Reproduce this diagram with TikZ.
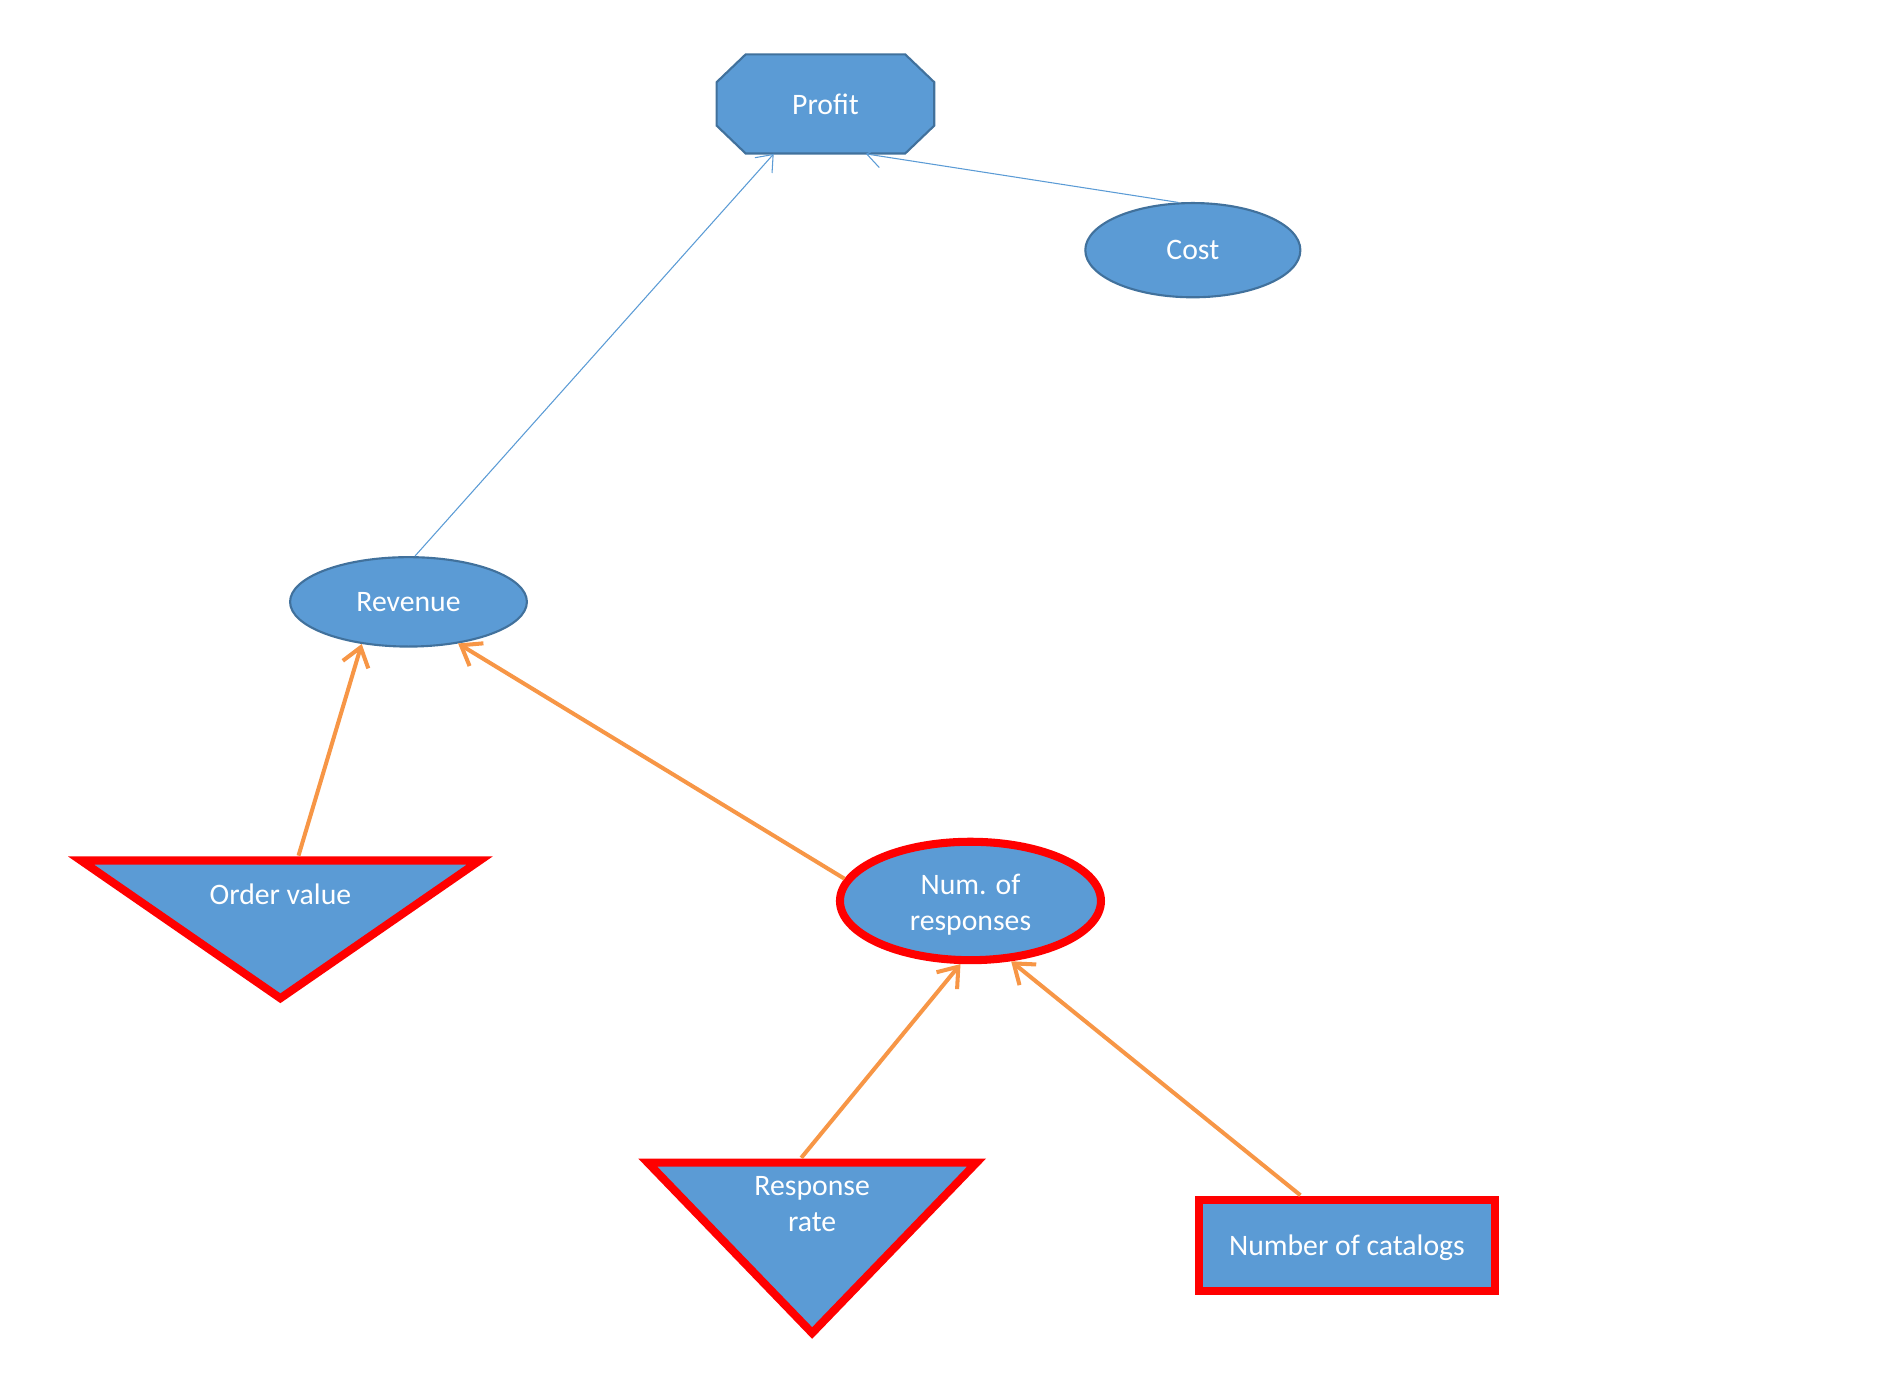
\documentclass[tikz,border=0pt]{standalone}
\usepackage{fontspec}
\setmainfont{Carlito}
\usepackage{tikz}
\usetikzlibrary{positioning, arrows.meta, shapes.geometric}
\definecolor{fillblue}{HTML}{5B9BD5}
\definecolor{edgeblue}{HTML}{41719C}
\definecolor{arrorange}{HTML}{F79646}

\begin{document}
\begin{tikzpicture}[x=0.02cm, y=-0.02cm,
        txt/.style={text=white, font=\fontsize{14}{17}\selectfont, align=center, inner sep=0pt},
        blueline/.style={draw=edgeblue, line width=1pt, fill=fillblue},
        redline/.style={draw=red, line width=3.8pt, fill=fillblue},
        thinarrow/.style={draw=fillblue, line width=0.5pt, -{Straight Barb[length=2.4mm, width=3.8mm]}},
        thickarrow/.style={draw=arrorange, line width=1.9pt, -{Straight Barb[length=3mm, width=4.4mm]}}]
            \useasboundingbox (0, 0) rectangle (1568, 1148);
            \draw[blueline] (593, 68) -- (617, 45) -- (749, 45) -- (773, 68) -- (773, 104) -- (749, 127) -- (617, 127) -- (593, 104) -- cycle;
            \node [txt, minimum width=3.6cm, minimum height=1.64cm] (P) at (683, 86) {Profit};
            \node [ellipse, blueline, txt, minimum width=3.56cm, minimum height=1.56cm] (C) at (987, 207) {Cost};
            \node [ellipse, blueline, txt, minimum width=3.92cm, minimum height=1.48cm] (R) at (338, 498) {Revenue};
            \node [ellipse, redline, txt, text height=30.5pt, minimum width=4.32cm, minimum height=1.96cm] (N) at (803, 745.5) {Num. of\\responses};
            \node [rectangle, redline, txt, text height=12.2pt, text depth=3pt, minimum width=4.9cm, minimum height=1.5cm] (NC) at (1114.5, 1030.5) {Number of catalogs};
            \draw[redline, miter limit=20] (67, 712) -- (397, 712) -- (232, 826) -- cycle;
            \node [txt] (O) at (232, 740) {Order value};
            \draw[redline, miter limit=20] (536, 962) -- (808, 962) -- (672, 1103) -- cycle;
            \node [txt] (RR) at (672, 996) {Response\\rate};
            \coordinate (Otop) at (247, 708);
            \coordinate (RRtop) at (663, 958);
            \coordinate (NCtop) at (1076, 989);
            \draw[thinarrow] (R.82) -- (P.224);
            \draw[thinarrow] (C.107) -- (P.309);
            \draw[thickarrow] (Otop) -- (R.222);
            \draw[thickarrow] (N.170) -- (R.320);
            \draw[thickarrow] (RRtop) -- (N.261);
            \draw[thickarrow] (NCtop) -- (N.304);
        \end{tikzpicture}
\end{document}
